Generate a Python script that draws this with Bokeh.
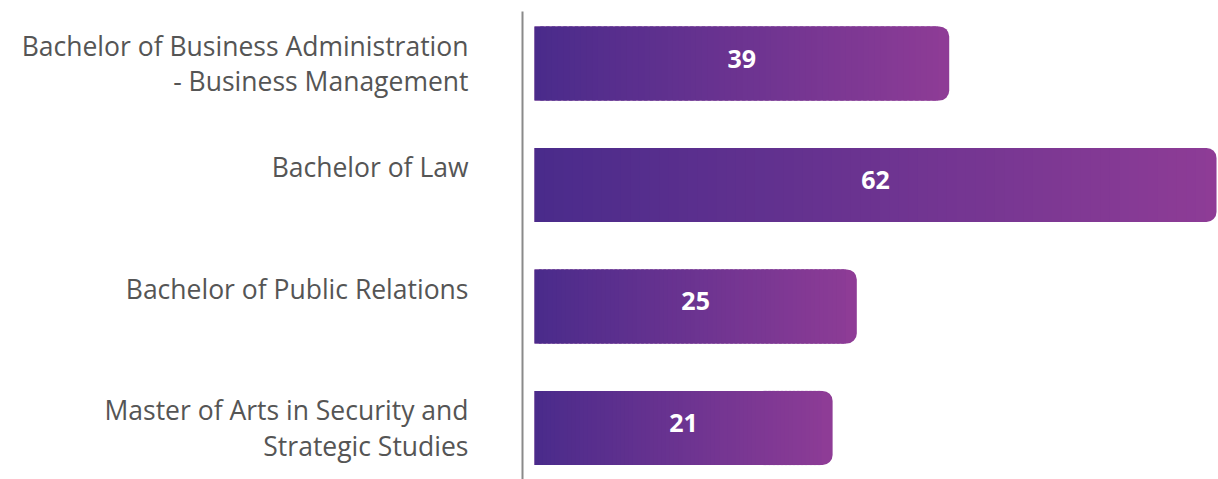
import numpy as np
from bokeh.plotting import figure
from bokeh.models import ColumnDataSource, Range1d, FixedTicker
from bokeh.core.properties import value
from bokeh.embed import file_html
from bokeh.resources import INLINE

# ---- data -------------------------------------------------------------
programmes = [
    "Bachelor of Business Administration\n- Business Management",
    "Bachelor of Law",
    "Bachelor of Public Relations",
    "Master of Arts in Security and\nStrategic Studies",
]
counts = [39, 62, 25, 21]                 # value labels shown on the bars
bar_extent = [37.7, 62.0, 29.3, 27.1]     # drawn bar lengths

# ---- styles -----------------------------------------------------------
GRAD_START = np.array([74, 43, 139])
GRAD_END = np.array([142, 60, 150])
N_SLICES = 70
BAR_H = 0.61

n = len(programmes)
ypos = [float(n - 1 - i) for i in range(n)]

p = figure(width=1218, height=479, output_backend="svg", toolbar_location=None,
           x_range=Range1d(-1.09, 62.18), y_range=Range1d(-0.424, 3.428),
           min_border_left=522, min_border_right=0, min_border_top=11, min_border_bottom=0)
p.outline_line_color = None
p.xgrid.visible = False
p.ygrid.visible = False
p.xaxis.visible = False
p.background_fill_color = "white"
p.border_fill_color = "white"

def hexcol(c):
    c = np.clip(np.round(c), 0, 255).astype(int)
    return "#%02x%02x%02x" % tuple(c)

# base rounded bars (end colour), then gradient slices over the left part
end_col = hexcol(GRAD_END)
p.hbar(y=ypos, left=0, right=bar_extent, height=BAR_H, fill_color=end_col,
       line_color=None, border_radius=(0, 10, 10, 0))

L, R, B, T, C = [], [], [], [], []
for e, y in zip(bar_extent, ypos):
    x1 = e - 1.0
    w = x1 / N_SLICES
    for k in range(N_SLICES):
        left = k * w
        right = min(left + w * 1.6, x1)
        t = (left + w / 2) / e
        L.append(left); R.append(right)
        B.append(y - BAR_H / 2); T.append(y + BAR_H / 2)
        C.append(hexcol(GRAD_START + (GRAD_END - GRAD_START) * t))
src = ColumnDataSource(dict(left=L, right=R, bottom=B, top=T, color=C))
p.quad(left="left", right="right", bottom="bottom", top="top", fill_color="color",
       line_color=None, source=src)

# value labels
p.text(x=[e / 2 for e in bar_extent], y=ypos, text=[str(c) for c in counts],
       text_align="center", text_baseline="middle", text_color="white",
       text_font=value("Open Sans"), text_font_style="bold", text_font_size="25px",
       y_offset=-5)

# category axis (single-line labels sit a little above their bar, as in the source)
ax = p.yaxis[0]
ax.ticker = FixedTicker(ticks=ypos)
ax.major_label_overrides = {y: (lab if "\n" in lab else lab + "\n ")
                            for y, lab in zip(ypos, programmes)}
ax.major_label_text_font = "Open Sans"
ax.major_label_text_font_size = "26.5px"
ax.major_label_text_color = "#555555"
ax.major_label_text_line_height = 0.98
ax.major_label_standoff = 54
ax.major_tick_in = 0
ax.major_tick_out = 0
ax.minor_tick_in = 0
ax.minor_tick_out = 0
ax.axis_line_color = "#8a8a8a"
ax.axis_line_width = 2

open("out.html", "w").write(file_html(p, INLINE))
